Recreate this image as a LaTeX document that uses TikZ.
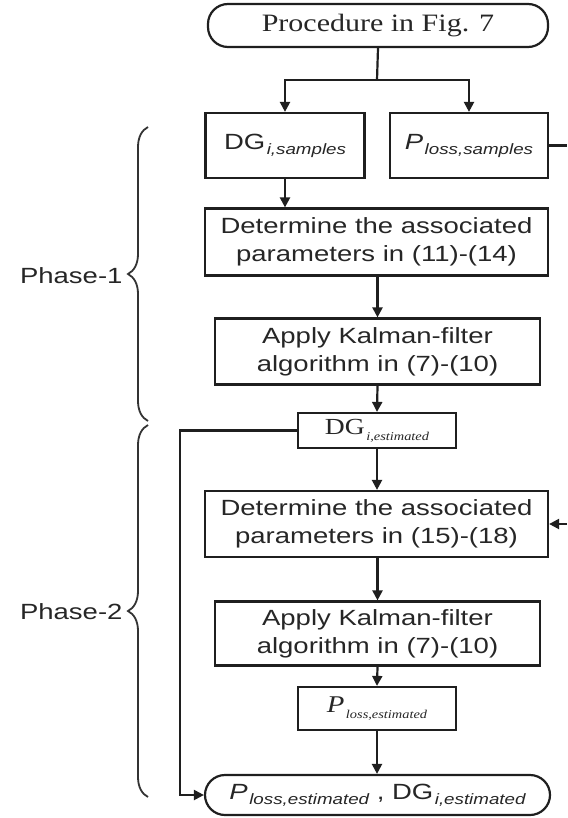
\documentclass[tikz,border=0pt]{standalone}
\usepackage{fontspec}
\usetikzlibrary{arrows.meta,decorations.pathreplacing}
\newfontfamily\sfx[FakeStretch=1.25]{Liberation Sans}
\newfontfamily\rmx[FakeStretch=1.2]{Liberation Serif}
% subscripts in the sans and serif labels
\newcommand{\sfsub}[1]{\kern1.5pt\raisebox{-5pt}{\fontsize{15}{15}\selectfont\itshape #1}}
\newcommand{\rmsub}[1]{\kern1.5pt\raisebox{-6pt}{\fontsize{12}{12}\selectfont\itshape #1}}
\tikzset{
  box/.style={draw=black!88, line width=2.2pt, rectangle, align=center, inner sep=0pt,
    font=\sfx\fontsize{22}{28}\selectfont, text=black!85},
  term/.style={box, rounded corners=20pt},
  arr/.style={draw=black!88, line width=2.2pt, -{Triangle[length=10pt,width=10pt]}},
  ln/.style={draw=black!88, line width=2.2pt},
  brc/.style={draw=black!80, line width=1.8pt, decorate,
    decoration={brace, amplitude=20pt}},
  phase/.style={font=\sfx\fontsize{22}{26}\selectfont, text=black!85, anchor=east}
}
\begin{document}
\begin{tikzpicture}[x=1pt, y=-1pt]
\useasboundingbox (0,0) rectangle (567,818);

% start and end terminals
\node[term, minimum width=340pt, minimum height=43pt, font=\rmx\fontsize{25}{28}\selectfont]
  (top) at (378,25.5) {Procedure in Fig. 7};
\node[term, minimum width=345pt, minimum height=40pt] (fin) at (377.5,795)
  {\itshape P\upshape\sfsub{loss,estimated} , DG\sfsub{i,estimated}};

% phase 1
\node[box, minimum width=159pt, minimum height=65pt] (dgs) at (285,145.5)
  {DG\sfsub{i,samples}};
\node[box, minimum width=158pt, minimum height=65pt] (pls) at (469,145.5)
  {\itshape P\upshape\sfsub{loss,samples}};
\node[box, minimum width=343pt, minimum height=67pt] (det1) at (376.5,242)
  {Determine the associated\\parameters in (11)-(14)};
\node[box, minimum width=325pt, minimum height=66pt] (app1) at (377.5,351.5)
  {Apply Kalman-filter\\algorithm in (7)-(10)};
\node[box, minimum width=158pt, minimum height=35pt, font=\rmx\fontsize{23}{24}\selectfont]
  (dge) at (377,430.5) {DG\rmsub{i,estimated}};

% phase 2
\node[box, minimum width=343pt, minimum height=66pt] (det2) at (376.5,524)
  {Determine the associated\\parameters in (15)-(18)};
\node[box, minimum width=325pt, minimum height=64pt] (app2) at (377.5,633.5)
  {Apply Kalman-filter\\algorithm in (7)-(10)};
\node[box, minimum width=158pt, minimum height=43pt, font=\rmx\fontsize{24}{24}\selectfont]
  (ple) at (377,708.5) {\itshape P\upshape\rmsub{loss,estimated}};

% connectors
\coordinate (split) at (377,80);
\coordinate (plsout) at (567,145.5);
\coordinate (fbin) at (567,524);
\draw[ln] (top.south) -- (split);
\draw[arr] (split) -| (dgs.north);
\draw[arr] (split) -| (pls.north);
\draw[ln] (pls.east) -- (plsout);
\draw[arr] (dgs.south) -- (dgs.south |- det1.north);
\draw[arr] (det1.south -| app1.north) -- (app1.north);
\draw[arr] (app1.south) -- (dge.north);
\draw[arr] (dge.south) -- (dge.south |- det2.north);
\draw[arr] (fbin) -- (det2.east);
\draw[arr] (det2.south -| app2.north) -- (app2.north);
\draw[arr] (app2.south) -- (ple.north);
\draw[arr] (ple.south) -- (ple.south |- fin.north);
\draw[arr] (dge.west) -- (180,430.5) |- (fin.west);

% phase braces and labels
\draw[brc] (148,421) -- (148,127);
\draw[brc] (148,797) -- (148,425);
\node[phase] (ph1) at (126,276) {Phase-1};
\node[phase] (ph2) at (126,612) {Phase-2};
\end{tikzpicture}
\end{document}
